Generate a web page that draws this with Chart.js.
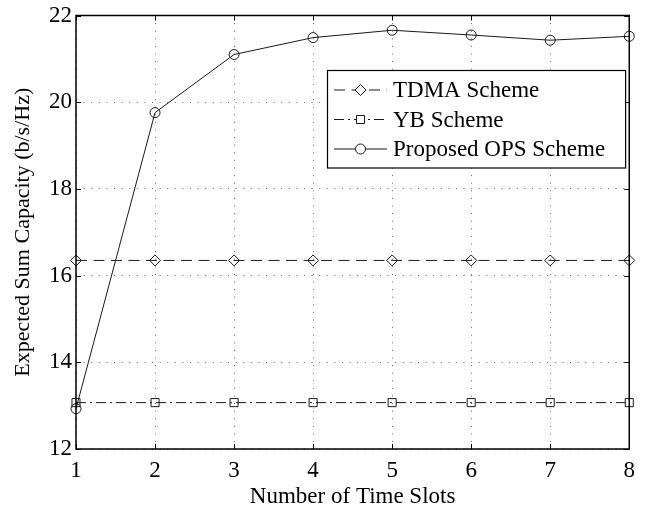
<!DOCTYPE html>
<html>
<head>
<meta charset="utf-8">
<script src="https://cdn.jsdelivr.net/npm/chart.js@4/dist/chart.umd.min.js"></script>
<style>
  html, body { margin: 0; padding: 0; background: #fff; }
  #wrap { width: 645px; height: 508px; }
</style>
</head>
<body>
<div id="wrap"><canvas id="cap"></canvas></div>
<script>
// Number of time slots on the horizontal axis
const timeSlots = [1, 2, 3, 4, 5, 6, 7, 8];
// Expected sum capacity (b/s/Hz) for each scheme
const tdmaCapacity = [16.35, 16.35, 16.35, 16.35, 16.35, 16.35, 16.35, 16.35];
const ybCapacity   = [13.07, 13.07, 13.07, 13.07, 13.07, 13.07, 13.07, 13.07];
const opsCapacity  = [12.93, 19.76, 21.10, 21.49, 21.66, 21.55, 21.43, 21.52];
const yTicks = [12, 14, 16, 18, 20, 22];
const seriesNames = ['TDMA Scheme', 'YB Scheme', 'Proposed OPS Scheme'];

const FONT = '"Liberation Serif", "Times New Roman", serif';
const INK = '#1a1a1a';

const toPoints = vals => timeSlots.map((t, i) => ({ x: t, y: vals[i] }));

// Axes box with inward tick marks, and a boxed legend in the upper right
const frameAndLegend = {
  id: 'frameAndLegend',
  afterDatasetsDraw(chart) {
    const { ctx, chartArea: a, scales } = chart;
    ctx.save();
    ctx.strokeStyle = '#000';
    ctx.lineWidth = 1;
    ctx.setLineDash([]);
    const tl = 5;
    ctx.beginPath();
    scales.x.ticks.forEach(t => {
      const px = Math.round(scales.x.getPixelForValue(t.value)) + 0.5;
      ctx.moveTo(px, a.bottom); ctx.lineTo(px, a.bottom - tl);
      ctx.moveTo(px, a.top); ctx.lineTo(px, a.top + tl);
    });
    scales.y.ticks.forEach(t => {
      const py = Math.round(scales.y.getPixelForValue(t.value)) + 0.5;
      ctx.moveTo(a.left, py); ctx.lineTo(a.left + tl, py);
      ctx.moveTo(a.right, py); ctx.lineTo(a.right - tl, py);
    });
    ctx.stroke();
    ctx.lineWidth = 1.5;
    ctx.strokeRect(a.left, a.top, a.right - a.left, a.bottom - a.top);

    // legend
    ctx.font = '23px ' + FONT;
    const textW = Math.max(...chart.data.datasets.map(d => ctx.measureText(d.label).width));
    const rowH = 29.5;
    const boxW = 66 + textW + 20;
    const boxH = rowH * chart.data.datasets.length + 9;
    const bx = Math.round(a.right - 4 - boxW);
    const by = Math.round(a.top + 54);
    ctx.fillStyle = '#fff';
    ctx.fillRect(bx, by, boxW, boxH);
    ctx.lineWidth = 1.2;
    ctx.strokeStyle = '#000';
    ctx.strokeRect(bx + 0.5, by + 0.5, boxW, boxH);
    chart.data.datasets.forEach((d, i) => {
      const cy = by + 20 + i * rowH;
      const x0 = bx + 7, x1 = bx + 60;
      ctx.strokeStyle = d.borderColor;
      ctx.lineWidth = d.borderWidth;
      ctx.setLineDash(d.borderDash || []);
      ctx.beginPath();
      ctx.moveTo(x0, cy); ctx.lineTo(x1, cy);
      ctx.stroke();
      ctx.setLineDash([]);
      ctx.fillStyle = '#fff';
      ctx.strokeStyle = d.pointBorderColor;
      Chart.helpers.drawPoint(ctx, {
        pointStyle: d.pointStyle,
        radius: d.pointRadius,
        borderWidth: d.pointBorderWidth
      }, (x0 + x1) / 2, cy);
      ctx.fillStyle = '#000';
      ctx.textBaseline = 'middle';
      ctx.textAlign = 'left';
      ctx.fillText(d.label, bx + 66, cy + 1);
    });
    ctx.restore();
  }
};

const lineSet = (label, vals, dash, style, radius) => ({
  label,
  data: toPoints(vals),
  borderColor: INK,
  borderWidth: 1,
  borderDash: dash,
  pointStyle: style,
  pointRadius: radius,
  pointHoverRadius: radius,
  pointBorderColor: INK,
  pointBackgroundColor: 'rgba(255,255,255,0)',
  pointBorderWidth: 1,
  tension: 0,
  fill: false,
  clip: false
});

new Chart(document.getElementById('cap'), {
  type: 'line',
  data: {
    datasets: [
      lineSet(seriesNames[0], tdmaCapacity, [11, 6.5], 'rectRot', 5.5),
      lineSet(seriesNames[1], ybCapacity, [10, 4, 2, 4], 'rect', 5.7),
      lineSet(seriesNames[2], opsCapacity, [], 'circle', 5)
    ]
  },
  options: {
    responsive: true,
    maintainAspectRatio: false,
    animation: false,
    devicePixelRatio: 1,
    layout: { padding: { left: 0, right: 15, top: 14, bottom: 0 } },
    plugins: {
      legend: { display: false },
      tooltip: { enabled: false }
    },
    scales: {
      x: {
        type: 'linear',
        min: 1,
        max: 8,
        afterFit: s => { s.height = 59; },
        afterBuildTicks: s => { s.ticks = timeSlots.map(v => ({ value: v })); },
        ticks: {
          color: '#000',
          padding: 10,
          maxRotation: 0,
          font: { family: FONT, size: 23, lineHeight: 1.0 }
        },
        grid: { color: '#666', lineWidth: 1, drawTicks: false },
        border: { display: false, dash: [1, 6.6] },
        title: {
          display: true,
          text: 'Number of Time Slots',
          color: '#000',
          padding: { top: 0, bottom: 0 },
          font: { family: FONT, size: 23, lineHeight: 1.0 }
        }
      },
      y: {
        min: 12,
        max: 22,
        afterFit: s => { s.width = 76; },
        afterBuildTicks: s => { s.ticks = yTicks.map(v => ({ value: v })); },
        ticks: {
          color: '#000',
          padding: 4,
          font: { family: FONT, size: 23, lineHeight: 1.0 }
        },
        grid: { color: '#666', lineWidth: 1, drawTicks: false },
        border: { display: false, dash: [1, 6.6] },
        title: {
          display: true,
          text: 'Expected Sum Capacity (b/s/Hz)',
          color: '#000',
          padding: { top: 12, bottom: 0 },
          font: { family: FONT, size: 22, lineHeight: 1.0 }
        }
      }
    }
  },
  plugins: [frameAndLegend]
});
</script>
</body>
</html>
